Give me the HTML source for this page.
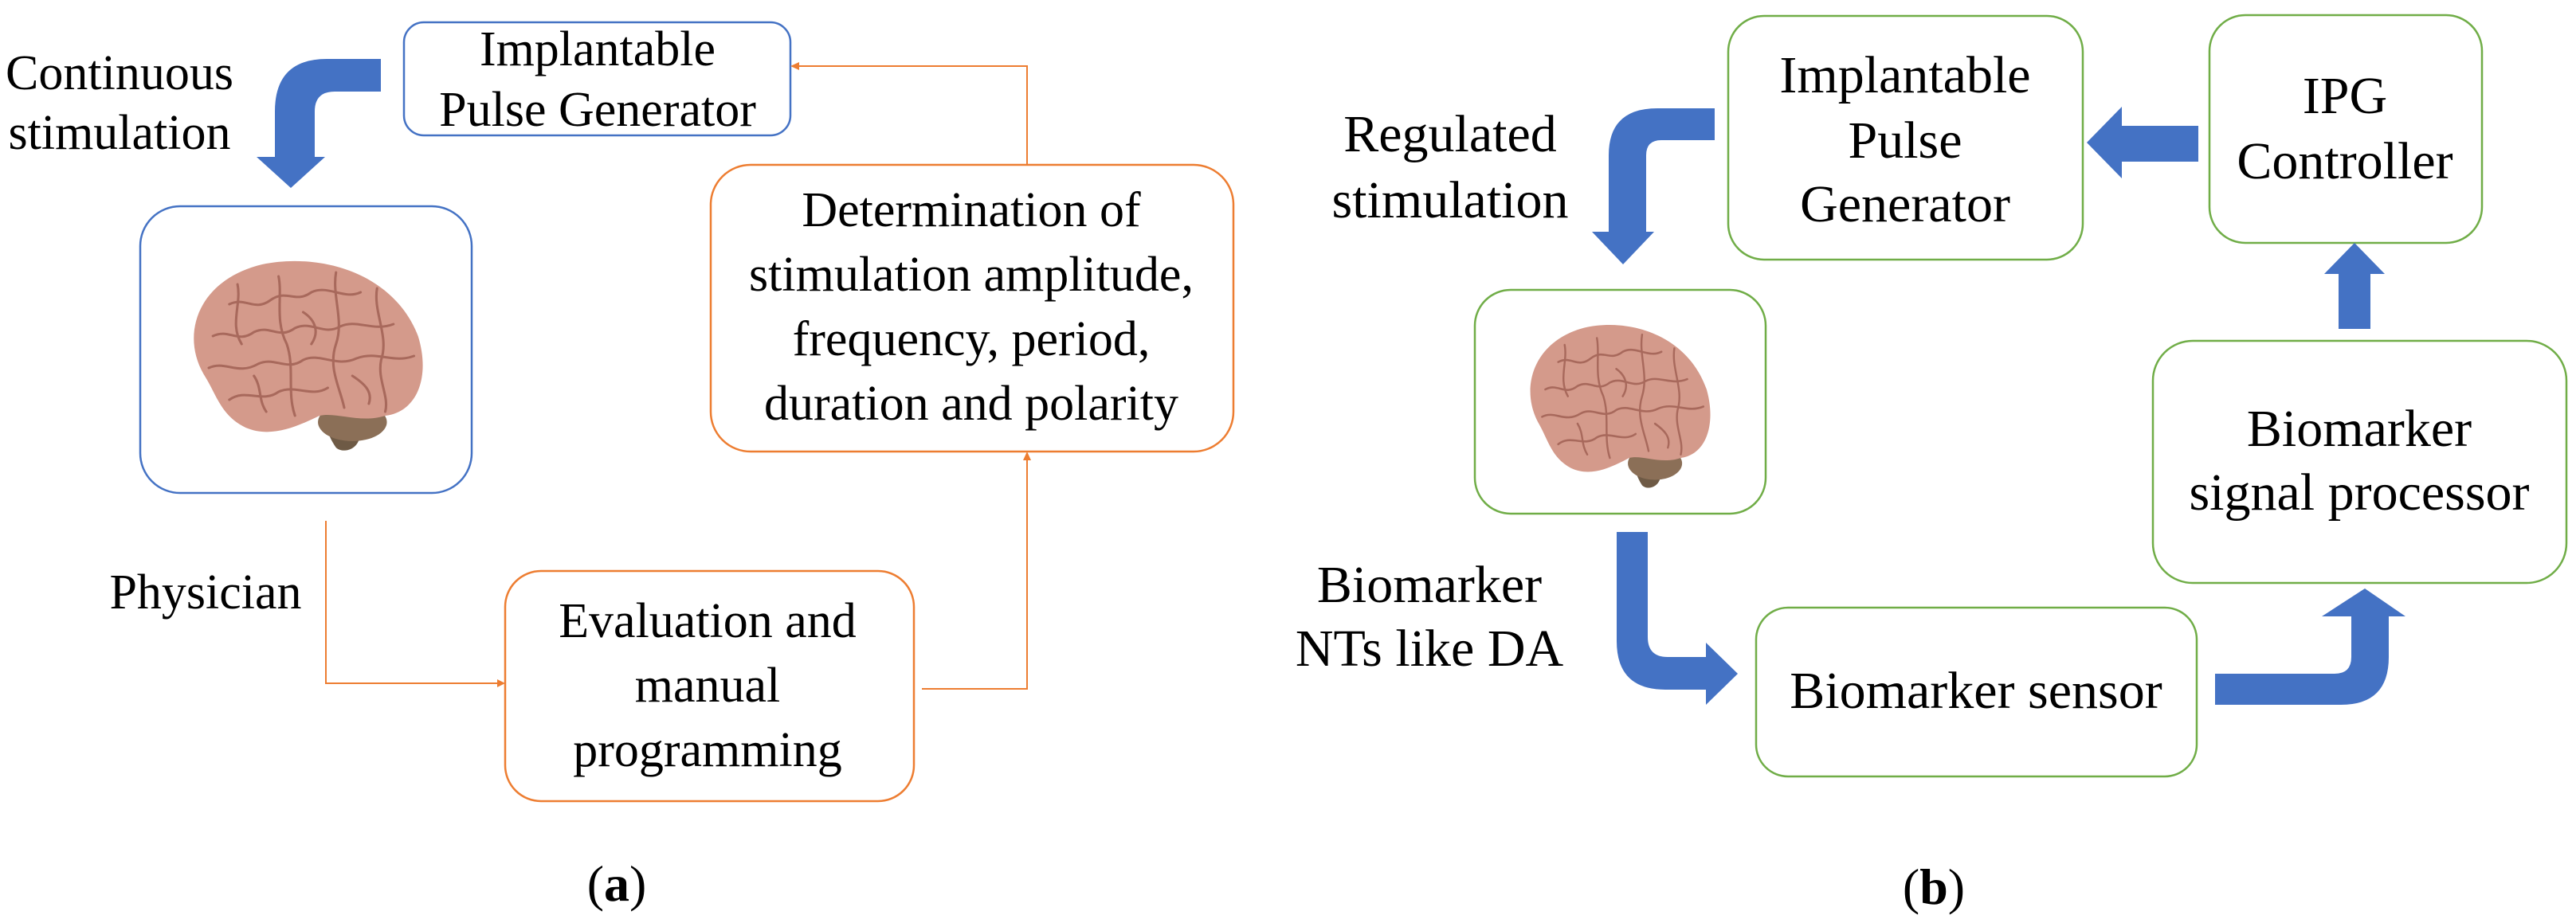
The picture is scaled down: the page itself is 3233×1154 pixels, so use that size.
<!DOCTYPE html>
<html><head><meta charset="utf-8"><style>
html,body{margin:0;padding:0;background:#fff;}
svg{display:block;}
svg text{font-family:"Liberation Serif","Times New Roman","DejaVu Serif",serif !important;fill:#000;}
</style></head><body>
<svg width="3233" height="1154" viewBox="0 0 3233 1154" xmlns="http://www.w3.org/2000/svg" font-family="Liberation Serif, Times New Roman, DejaVu Serif, serif">
<defs>
<g id="brain">
  <path d="M215,205 C230,240 200,250 190,240 C180,225 175,210 185,200 Z" fill="#6e5a45"/>
  <ellipse cx="210" cy="208" rx="42" ry="24" fill="#8b6f57"/>
  <path d="M30,150 C0,100 20,30 100,10 C170,-5 260,20 290,100 C305,150 290,195 250,200 C220,210 190,195 170,200 C140,215 110,228 80,215 C50,200 45,175 30,150 Z" fill="#d49a8b"/>
  <g fill="none" stroke="#a8695c" stroke-width="3" stroke-linecap="round">
    <path d="M60,60 C80,50 90,70 110,55 C130,40 140,60 160,45 C180,35 200,55 220,45"/>
    <path d="M40,100 C60,90 70,110 90,95 C110,85 120,105 140,90 C160,80 175,100 195,88 C215,78 235,95 260,85"/>
    <path d="M35,140 C55,130 70,150 95,135 C115,125 130,145 150,130 C170,120 190,140 215,128 C240,118 260,135 285,125"/>
    <path d="M60,180 C80,165 100,185 120,170 C140,160 160,178 180,165"/>
    <path d="M120,25 C125,50 115,80 130,110 C140,140 130,170 140,200"/>
    <path d="M190,20 C185,50 200,80 190,110 C180,140 195,165 200,190"/>
    <path d="M70,35 C75,60 60,85 75,110"/>
    <path d="M240,40 C235,70 255,100 245,130 C240,155 255,175 250,195"/>
    <path d="M150,70 C165,80 170,95 160,110 M210,150 C225,160 235,170 230,185 M90,150 C100,165 95,180 105,195"/>
  </g>
</g>
</defs>

<!-- ========== (a) ========== -->
<rect x="507" y="28" width="485" height="142" rx="25" fill="none" stroke="#4472c4" stroke-width="2.5"/>
<text x="750" y="82" font-size="62" text-anchor="middle">Implantable</text>
<text x="750" y="158" font-size="62" text-anchor="middle">Pulse Generator</text>

<text x="150" y="112" font-size="62" text-anchor="middle">Continuous</text>
<text x="150" y="187" font-size="62" text-anchor="middle">stimulation</text>

<path d="M478,74 L410,74 Q345,74 345,140 L345,197 L322,197 L365,236 L408,197 L395,197 L395,140 Q395,115 420,115 L478,115 Z" fill="#4472c4"/>

<rect x="176" y="259" width="416" height="360" rx="50" fill="none" stroke="#4472c4" stroke-width="2.5"/>
<use href="#brain" transform="translate(226,322) scale(1.03,1.0)"/>

<rect x="892" y="207" width="656" height="360" rx="50" fill="none" stroke="#ed7d31" stroke-width="2.5"/>
<text x="1219" y="284" font-size="62" text-anchor="middle">Determination of</text>
<text x="1219" y="365" font-size="62" text-anchor="middle">stimulation amplitude,</text>
<text x="1219" y="446" font-size="62" text-anchor="middle">frequency, period,</text>
<text x="1219" y="527" font-size="62" text-anchor="middle">duration and polarity</text>

<rect x="634" y="717" width="513" height="289" rx="45" fill="none" stroke="#ed7d31" stroke-width="2.5"/>
<text x="888" y="800" font-size="62" text-anchor="middle">Evaluation and</text>
<text x="888" y="881" font-size="62" text-anchor="middle">manual</text>
<text x="888" y="962" font-size="62" text-anchor="middle">programming</text>

<text x="258" y="764" font-size="62" text-anchor="middle">Physician</text>

<g fill="none" stroke="#ed7d31" stroke-width="2">
  <path d="M409,654 L409,858 L626,858"/>
  <path d="M1157,865 L1289,865 L1289,575"/>
  <path d="M1289,207 L1289,83 L1000,83"/>
</g>
<g fill="#ed7d31">
  <path d="M634,858 L624,853 L624,863 Z"/>
  <path d="M1289,567 L1284,578 L1294,578 Z"/>
  <path d="M992,83 L1003,78 L1003,88 Z"/>
</g>

<text x="774" y="1131" font-size="64" text-anchor="middle">(<tspan font-weight="bold">a</tspan>)</text>

<!-- ========== (b) ========== -->
<rect x="2169" y="20" width="445" height="306" rx="45" fill="none" stroke="#70ad47" stroke-width="2.5"/>
<text x="2391" y="116" font-size="66" text-anchor="middle">Implantable</text>
<text x="2391" y="198" font-size="66" text-anchor="middle">Pulse</text>
<text x="2391" y="278" font-size="66" text-anchor="middle">Generator</text>

<rect x="2773" y="19" width="342" height="286" rx="45" fill="none" stroke="#70ad47" stroke-width="2.5"/>
<text x="2943" y="142" font-size="66" text-anchor="middle">IPG</text>
<text x="2943" y="224" font-size="66" text-anchor="middle">Controller</text>

<path d="M2759,158 L2663,158 L2663,134 L2619,179 L2663,224 L2663,203 L2759,203 Z" fill="#4472c4"/>
<path d="M2935,413 L2935,344 L2917,344 L2955,305 L2993,344 L2975,344 L2975,413 Z" fill="#4472c4"/>

<text x="1820" y="190" font-size="66" text-anchor="middle">Regulated</text>
<text x="1820" y="273" font-size="66" text-anchor="middle">stimulation</text>
<path d="M2152,136 L2080,136 Q2019,136 2019,195 L2019,291 L1998,291 L2037,332 L2076,291 L2066,291 L2066,195 Q2066,176 2085,176 L2152,176 Z" fill="#4472c4"/>

<rect x="1851" y="364" width="365" height="281" rx="45" fill="none" stroke="#70ad47" stroke-width="2.5"/>
<use href="#brain" transform="translate(1907,403) scale(0.81,0.86)"/>

<rect x="2702" y="428" width="519" height="304" rx="50" fill="none" stroke="#70ad47" stroke-width="2.5"/>
<text x="2961" y="560" font-size="66" text-anchor="middle">Biomarker</text>
<text x="2961" y="640" font-size="66" text-anchor="middle">signal processor</text>

<text x="1794" y="756" font-size="66" text-anchor="middle">Biomarker</text>
<text x="1794" y="836" font-size="66" text-anchor="middle">NTs like DA</text>
<path d="M2029,668 L2068,668 L2068,800 Q2068,825 2093,825 L2141,825 L2141,807 L2181,846 L2141,885 L2141,866 L2090,866 Q2029,866 2029,805 Z" fill="#4472c4"/>

<rect x="2204" y="763" width="553" height="212" rx="40" fill="none" stroke="#70ad47" stroke-width="2.5"/>
<text x="2480" y="889" font-size="66" text-anchor="middle">Biomarker sensor</text>

<path d="M2780,846 L2930,846 Q2951,846 2951,825 L2951,774 L2914,774 L2968,739 L3019,774 L2998,774 L2998,825 Q2998,885 2938,885 L2780,885 Z" fill="#4472c4"/>

<text x="2427" y="1135" font-size="64" text-anchor="middle">(<tspan font-weight="bold">b</tspan>)</text>
</svg>
</body></html>
